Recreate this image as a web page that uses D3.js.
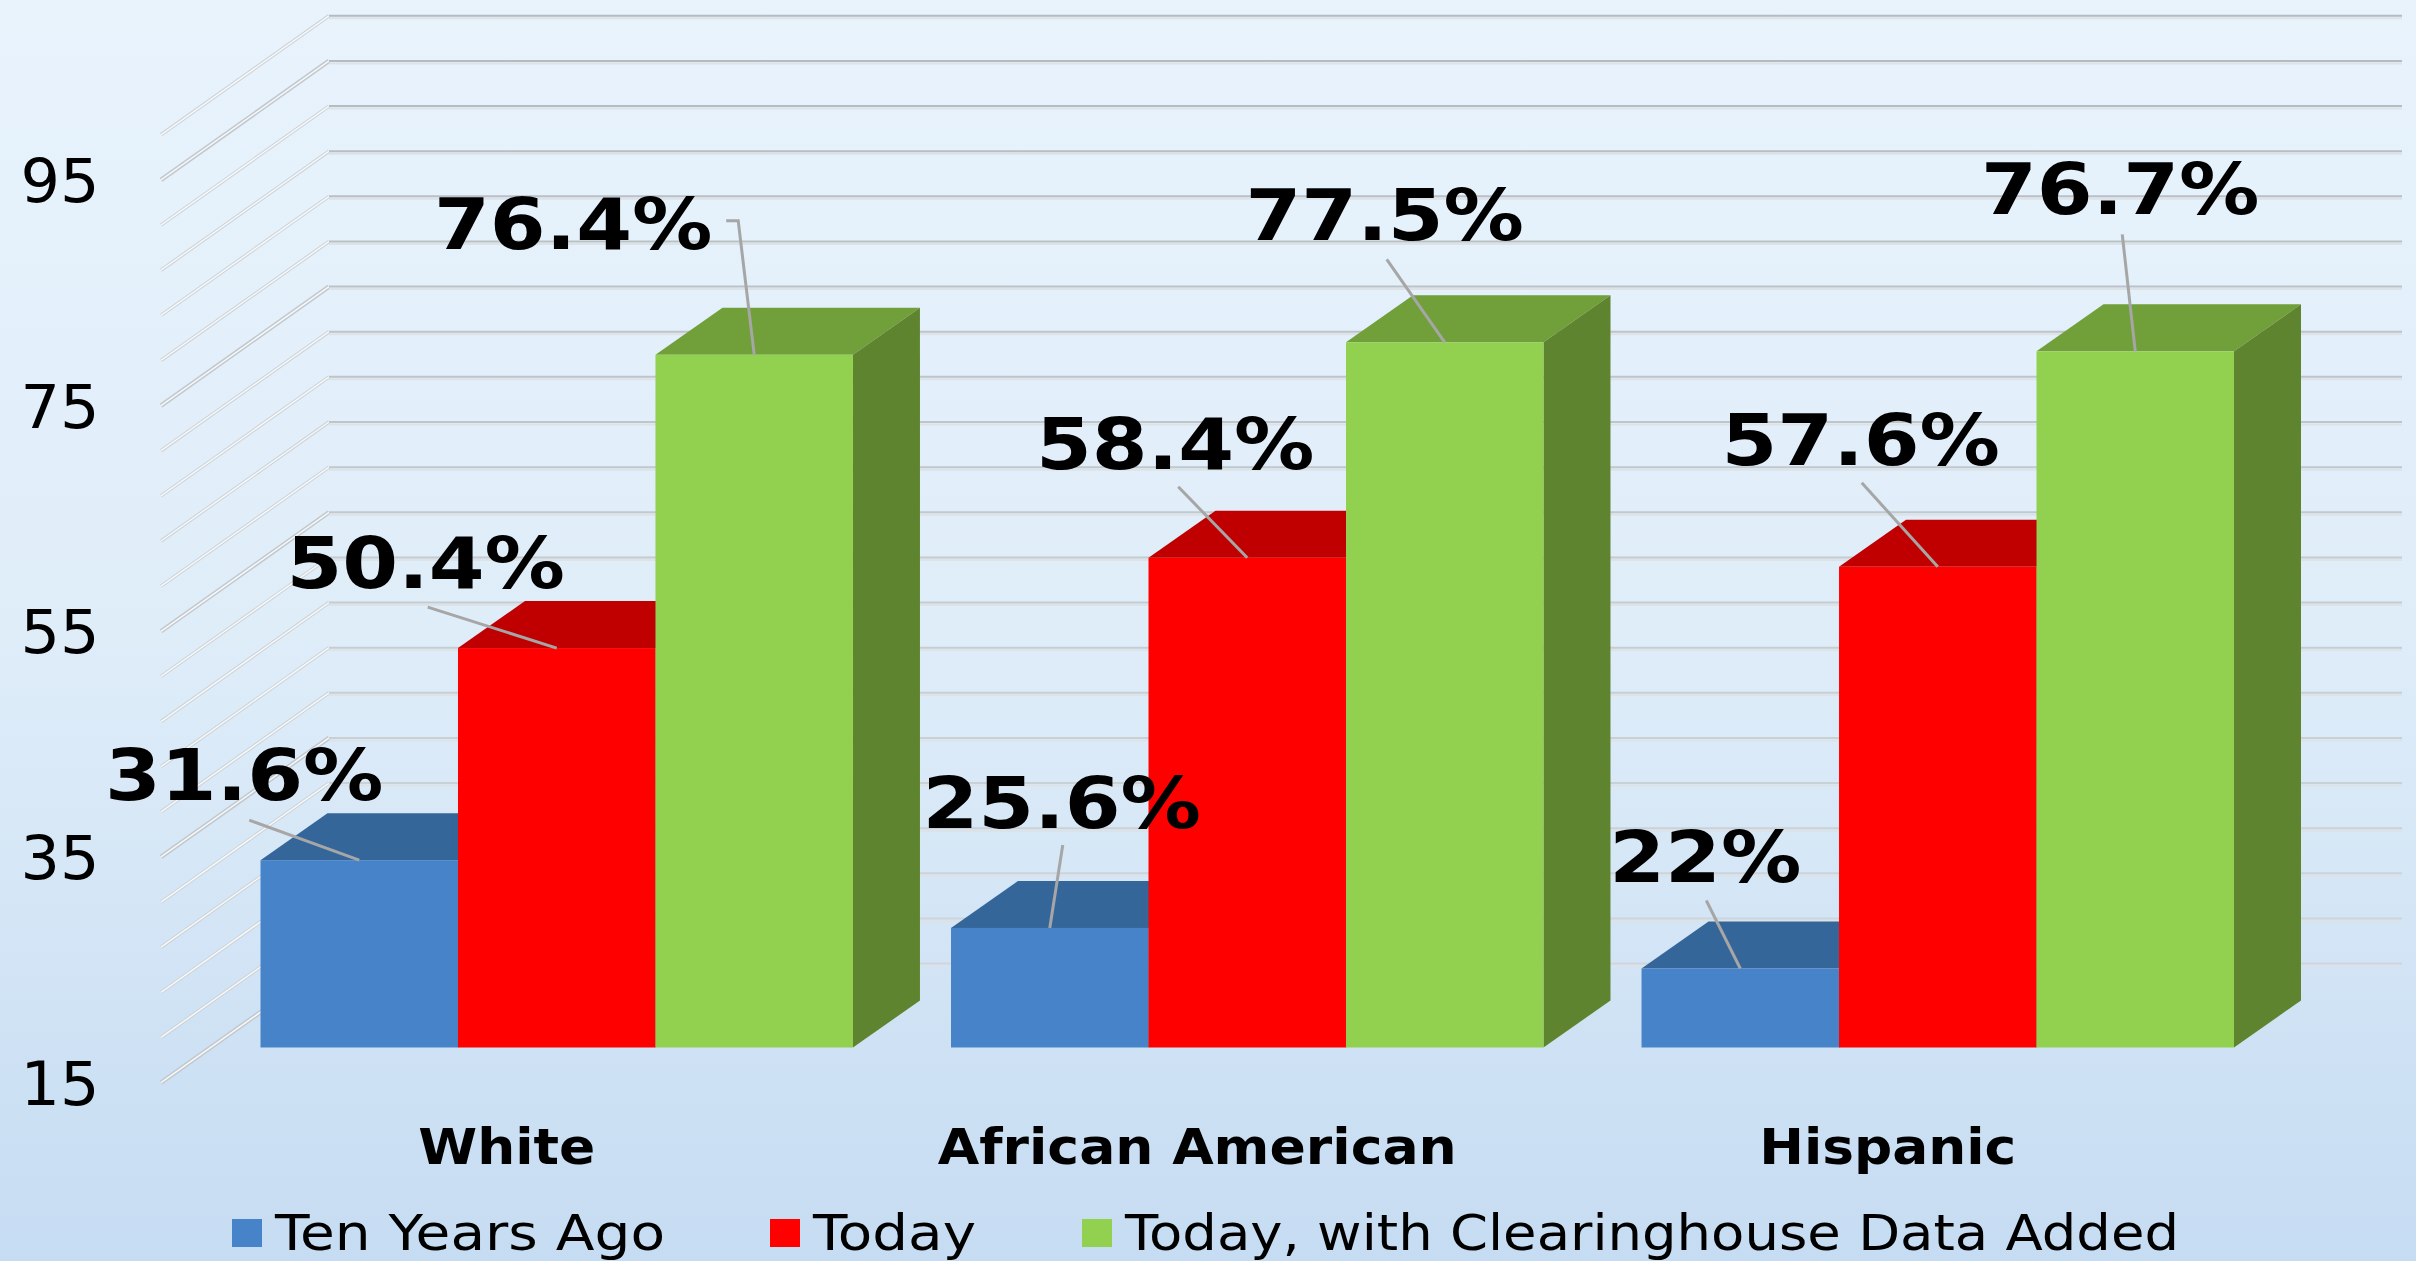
<!DOCTYPE html>
<html>
<head>
<meta charset="utf-8">
<script src="https://cdn.jsdelivr.net/npm/d3@7"></script>
<style>
  html, body { margin: 0; padding: 0; overflow: hidden; }
  text { font-family: "DejaVu Sans", sans-serif; fill: #000; }
</style>
</head>
<body>
<div id="chart"></div>
<script>
// Datos del gráfico
const categories = ["White", "African American", "Hispanic"];
const seriesNames = ["Ten Years Ago", "Today", "Today, with Clearinghouse Data Added"];
const tenYearsAgo = [31.6, 25.6, 22];
const today = [50.4, 58.4, 57.6];
const todayClearinghouse = [76.4, 77.5, 76.7];
const valueTicks = [15, 35, 55, 75, 95];
const gridValues = d3.range(15, 100, 4);

// Colores: frente, tapa, lateral
const colors = [
    { front: "#4683c8", top: "#34669a", side: "#2f5c8c" },
    { front: "#ff0000", top: "#c00000", side: "#a80000" },
    { front: "#92d050", top: "#719f3a", side: "#5f8430" }
];

// Desplazamiento de cada etiqueta y de su línea guía respecto al centro de la tapa de la barra
const labelOffsets = [
    [{ dx: -115, dy: -85, lx: -110, ly: -40 }, { dx: -131, dy: -85, lx: -129, ly: -41 }, { dx: -181, dy: -131, lx: -16, ly: -134, elbow: true }],
    [{ dx: 12, dy: -125, lx: 13, ly: -83 }, { dx: -72, dy: -114, lx: -69, ly: -71 }, { dx: -60, dy: -127, lx: -58, ly: -83 }],
    [{ dx: -35, dy: -112, lx: -34, ly: -68 }, { dx: -77, dy: -127, lx: -76, ly: -84 }, { dx: -15, dy: -162, lx: -13, ly: -117 }]
];

// Anchos de texto medidos en la imagen (Verdana es más ancha que DejaVu)
const categoryWidths = [177, 519, 257];
const legendWidths = [390, 163, 1054];
const legendX = [232, 770, 1082];

const width = 2416, height = 1261;
const svg = d3.select("#chart").append("svg")
    .attr("width", width)
    .attr("height", height)
    .style("display", "block");

const grad = svg.append("defs").append("linearGradient")
    .attr("id", "bg").attr("x1", 0).attr("y1", 0).attr("x2", 0).attr("y2", 1);
grad.append("stop").attr("offset", "0%").attr("stop-color", "#e8f3fc");
grad.append("stop").attr("offset", "50%").attr("stop-color", "#dfedf9");
grad.append("stop").attr("offset", "100%").attr("stop-color", "#c6dcf2");
svg.append("rect").attr("width", width).attr("height", height).attr("fill", "url(#bg)");

// Escalas
const yWall = d3.scaleLinear().domain([15, 99]).range([1082.6, 134.8]);
const wallDepth = { x: 168, y: -119 };
const wallRight = 2402;
const yBar = d3.scaleLinear().domain([15, 99]).range([1047.5, 99.7]);
const barDepth = { x: 67, y: -47 };

const x0 = d3.scaleBand().domain(categories).range([260.5, 2234]).paddingInner(0.142);
const x1 = d3.scaleBand().domain(seriesNames).range([0, x0.bandwidth()]);

// Las líneas del fondo se aclaran hacia abajo
const gridColor = d3.scaleLinear().domain([15, 99]).range(["#ced6dd", "#b4babe"]);

// Rejilla: pared lateral y pared del fondo
const grid = svg.append("g").attr("class", "grid");
gridValues.forEach(v => {
    const major = valueTicks.includes(v);
    const y = yWall(v);
    const backY = y + wallDepth.y;
    const backX = 161 + wallDepth.x;
    grid.append("line")
        .attr("x1", 161).attr("y1", y).attr("x2", backX).attr("y2", backY)
        .attr("stroke", major ? "#c2c8cd" : "#ccd2d7").attr("stroke-width", major ? 4.5 : 3.5);
    grid.append("line")
        .attr("x1", 161).attr("y1", y).attr("x2", backX).attr("y2", backY)
        .attr("stroke", "#f6f8f9").attr("stroke-width", 1.5);
    grid.append("line")
        .attr("x1", backX).attr("y1", backY + 2.5).attr("x2", wallRight).attr("y2", backY + 2.5)
        .attr("stroke", "#dde2e6").attr("stroke-width", 2);
    grid.append("line")
        .attr("x1", backX).attr("y1", backY).attr("x2", wallRight).attr("y2", backY)
        .attr("stroke", gridColor(v)).attr("stroke-width", 2);
});

// Eje de valores
svg.append("g").selectAll("text")
    .data(valueTicks)
    .enter()
    .append("text")
    .attr("x", 60)
    .attr("y", d => yWall(d) + 22)
    .attr("text-anchor", "middle")
    .attr("font-size", 61)
    .attr("textLength", 79)
    .attr("lengthAdjust", "spacingAndGlyphs")
    .text(d => d);

// Barras en 3D
const allValues = [tenYearsAgo, today, todayClearinghouse];
seriesNames.forEach((name, s) => {
    const g = svg.append("g").attr("class", "series");
    categories.forEach((cat, c) => {
        const v = allValues[s][c];
        const left = x0(cat) + x1(name);
        const right = left + x1.bandwidth();
        const top = yBar(v);
        const base = yBar(15);
        const poly = pts => pts.map(p => p.join(",")).join(" ");
        g.append("polygon")
            .attr("points", poly([[left, top], [right, top], [right + barDepth.x, top + barDepth.y], [left + barDepth.x, top + barDepth.y]]))
            .attr("fill", colors[s].top);
        g.append("polygon")
            .attr("points", poly([[right, top], [right + barDepth.x, top + barDepth.y], [right + barDepth.x, base + barDepth.y], [right, base]]))
            .attr("fill", colors[s].side);
    });
});
seriesNames.forEach((name, s) => {
    svg.append("g").selectAll("rect")
        .data(categories)
        .enter()
        .append("rect")
        .attr("x", d => x0(d) + x1(name))
        .attr("y", (d, i) => yBar(allValues[s][i]))
        .attr("width", x1.bandwidth())
        .attr("height", (d, i) => yBar(15) - yBar(allValues[s][i]))
        .attr("fill", colors[s].front);
});

// Etiquetas de datos con línea guía
seriesNames.forEach((name, s) => {
    categories.forEach((cat, c) => {
        const v = allValues[s][c];
        const cx = x0(cat) + x1(name) + x1.bandwidth() / 2;
        const top = yBar(v);
        const o = labelOffsets[c][s];
        const pts = [[cx + o.lx, top + o.ly]];
        if (o.elbow) pts.unshift([cx + o.lx - 12, top + o.ly]);
        pts.push([cx, top]);
        svg.append("path")
            .attr("d", d3.line()(pts))
            .attr("fill", "none")
            .attr("stroke", "#a6a6a6")
            .attr("stroke-width", 3);
        svg.append("text")
            .attr("transform", `translate(${cx + o.dx},${top + o.dy + 25}) scale(1.115,1)`)
            .attr("text-anchor", "middle")
            .attr("font-size", 72)
            .attr("font-weight", "bold")
            .text(v + "%");
    });
});

// Categorías
svg.append("g").selectAll("text")
    .data(categories)
    .enter()
    .append("text")
    .attr("x", d => x0(d) + x0.bandwidth() / 2 - 50)
    .attr("y", 1164)
    .attr("text-anchor", "middle")
    .attr("font-size", 50)
    .attr("font-weight", "bold")
    .attr("textLength", (d, i) => categoryWidths[i])
    .attr("lengthAdjust", "spacingAndGlyphs")
    .text(d => d);

// Leyenda
seriesNames.forEach((name, s) => {
    svg.append("rect")
        .attr("x", legendX[s]).attr("y", 1219)
        .attr("width", 30).attr("height", 28)
        .attr("fill", colors[s].front);
    svg.append("text")
        .attr("x", legendX[s] + 43)
        .attr("y", 1250)
        .attr("font-size", 49)
        .attr("textLength", legendWidths[s])
        .attr("lengthAdjust", "spacingAndGlyphs")
        .text(name);
});
</script>
</body>
</html>
